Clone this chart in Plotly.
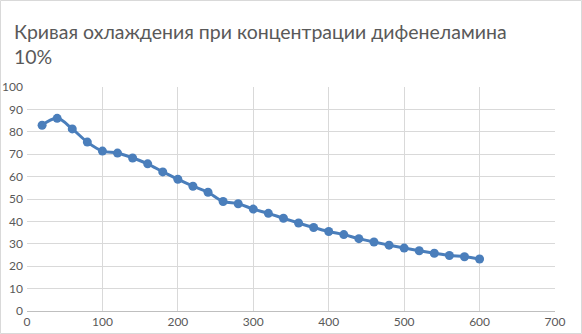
import plotly.graph_objects as go

time_s = [20, 40, 60, 80, 100, 120, 140, 160, 180, 200, 220, 240, 260, 280, 300,
          320, 340, 360, 380, 400, 420, 440, 460, 480, 500, 520, 540, 560, 580, 600]
temperature = [82.9, 86.0, 81.3, 75.4, 71.4, 70.5, 68.3, 65.7, 62.1, 58.8, 55.7, 53.0, 48.9, 47.9, 45.5,
               43.6, 41.4, 39.3, 37.3, 35.5, 34.1, 32.3, 30.8, 29.4, 28.1, 26.9, 25.8, 24.8, 24.2, 23.2]
title_text = "Кривая охлаждения при концентрации дифенеламина<br>10%"

W, H = 582, 334
ml, mr, mt, mb = 27, 27, 87, 23
pw, ph = W - ml - mr, H - mt - mb

fig = go.Figure()
fig.add_trace(go.Scatter(
    x=time_s, y=temperature, mode="lines+markers",
    line=dict(color="#4A7EBB", width=3, shape="spline", smoothing=1.0),
    marker=dict(symbol="circle", size=9, color="#4A7EBB"),
    showlegend=False, hoverinfo="x+y",
))

grid = "#D9D9D9"
tickfont = dict(family="Lato, Carlito, sans-serif", size=12, color="#595959")
fig.update_layout(
    template="none",
    width=W, height=H, autosize=False,
    margin=dict(l=ml, r=mr, t=mt, b=mb, pad=0, autoexpand=False),
    paper_bgcolor="white", plot_bgcolor="white",
    xaxis=dict(range=[0, 700], dtick=100, tick0=0, showgrid=True, gridcolor=grid, gridwidth=1,
               zeroline=False, showline=True, linecolor="#BFBFBF", linewidth=1,
               ticks="", tickfont=tickfont, fixedrange=True, automargin=False),
    yaxis=dict(range=[0, 100], dtick=10, tick0=0, showgrid=True, gridcolor=grid, gridwidth=1,
               zeroline=False, showline=False, ticks="", ticklabelstandoff=3,
               tickfont=tickfont, fixedrange=True, automargin=False),
    annotations=[dict(text=title_text, xref="paper", yref="paper",
                      x=(12 - ml) / pw, y=(ph + mt - 18) / ph, xanchor="left", yanchor="top",
                      align="left", showarrow=False,
                      font=dict(family="Lato, Carlito, sans-serif", size=19.5, color="#595959"))],
    shapes=[dict(type="rect", xref="paper", yref="paper",
                 x0=(-ml + 0.5) / pw, x1=(pw + mr - 0.5) / pw,
                 y0=(-mb + 0.5) / ph, y1=(ph + mt - 0.5) / ph,
                 line=dict(color="#D9D9D9", width=1), layer="above")],
)

fig.write_html("out.html")
